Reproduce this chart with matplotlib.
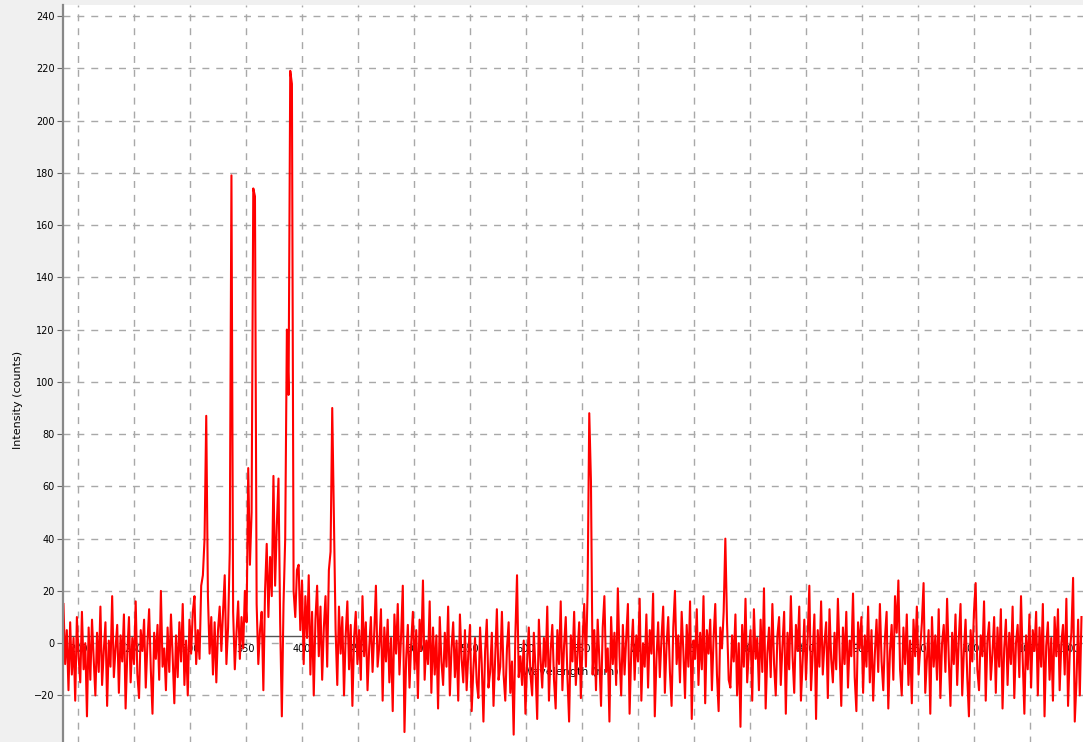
import numpy as np
import matplotlib
matplotlib.use("Agg")
import matplotlib.pyplot as plt

# ---- data ----
wl_start = 187.0   # nm, first sample
wl_step = 1.5      # nm, sampling interval

intensity = [
    15, -8, 5, -18, 8, -12, 2, -22, 10, -5, -15, 12, -10, 0, -28, 6, -14, 9, -6, -20,
    4, -11, 14, -16, -3, 8, -24, 1, -9, 18, -13, -2, 7, -19, 3, -7, 11, -25, -4, 10,
    -15, 2, -8, 16, -12, -21, 5, -3, 9, -17, 0, 13, -10, -27, 4, -6, 7, -14, 20, -9,
    -2, -18, 6, -11, 11, -5, -23, 3, -13, 8, -7, 15, -16, 1, -20, 9, -4, 12, 18, -8,
    5, -6, 22, 26, 40, 87, 18, -4, 10, -12, 8, -15, 5, 14, -3, 12, 26, -8, 6, 35,
    179, 12, -10, 4, 16, -6, 10, -2, 20, 8, 67, 30, 50, 174, 171, 15, -8, 5, 12, -18,
    20, 38, 10, 33, 18, 64, 22, 45, 63, 8, -28, 15, 40, 120, 95, 219, 214, 20, 10, 28,
    30, 5, 24, -8, 18, 2, 26, -12, 12, -20, 9, 22, -5, 14, -14, 6, 18, -9, 28, 35,
    90, 48, 5, -16, 14, -4, 10, -20, 3, 16, -10, 7, -24, 2, 12, -8, 5, -14, 18, -5,
    8, -18, -2, 10, -11, 4, 22, -9, -1, 13, -22, 6, -7, 9, -15, 2, -26, 11, -4, 15,
    -12, 3, 22, -34, -6, 7, -17, 0, 12, -10, 5, -21, 9, -3, 24, -14, 1, -8, 16, -19,
    6, -12, 3, -25, 10, -7, -16, 4, -9, 14, -20, -2, 8, -13, 1, -22, 11, -6, -15, 5,
    -18, -4, 7, -26, -10, 2, -15, -21, 6, -8, -30, -3, 9, -17, -11, 4, -24, -6, 13, -14,
    -9, 12, -12, -22, -2, 8, -19, -7, -35, 3, 26, -13, -5, -16, 1, -27, -8, 6, -12, -20,
    4, -10, -29, 9, -6, -17, 2, -9, 14, -22, -3, 7, -14, -25, 5, -8, 16, -18, -1, 10,
    -13, -30, 3, -7, 12, -16, -4, 8, -21, 1, 15, -9, 20, 88, 62, -12, 5, -18, 9, -6,
    -24, 6, 18, -11, -2, -30, 10, -8, 4, -16, 21, -5, -20, 7, -12, 2, 15, -27, -3, 9,
    -14, 3, -7, 17, -22, 0, -9, 11, -17, 5, -4, 19, -28, -6, 8, -13, 2, 14, -19, -1,
    10, -11, -24, 6, 20, -8, 3, -15, 12, -3, -21, 7, -9, 16, -29, 1, -6, 13, -16, 4,
    -10, 18, -23, 5, -4, 9, -18, 2, 15, -12, -26, 6, -2, 12, 40, 8, -14, -17, 3, -7,
    11, -20, 0, -32, 7, -9, 17, -15, -3, 5, -22, 13, -6, 2, -18, 9, -11, 21, -25, -4,
    6, -13, 15, -8, -20, 3, 10, -16, -1, 12, -27, 4, -10, 18, -5, -19, 7, -3, 14, -22,
    -7, 9, -14, 2, 22, -18, -4, 11, -29, 5, -9, 16, -12, 0, 8, -21, 13, -6, -15, 4,
    -10, 17, -3, -24, 6, -8, 12, -17, 1, -5, 19, -13, -26, 8, -2, 10, -19, 3, -9, 14,
    -15, 5, -22, -4, 9, -11, 15, -7, -18, 2, 12, -25, -3, 7, -14, 18, 4, 24, -10, -20,
    6, -8, 11, -16, 1, -23, 9, -5, 14, -12, -2, 8, 23, -19, -6, 5, -27, 10, -9, 3,
    -14, 13, -21, 0, 7, -11, 17, -6, -24, 4, -8, 11, -16, 2, 15, -20, -3, 9, -13, -28,
    5, -7, 12, 23, -10, -18, 3, -5, 16, -22, 1, 8, -14, -4, 10, -19, 6, -9, 13, -25,
    -2, 9, -16, 4, -8, 14, -21, 0, 7, -13, 18, -6, -27, 3, -10, 11, -17, 5, -3, 12,
    -20, 6, -9, 15, -28, -1, 8, -14, 2, -22, 10, -5, 13, -18, 0, 7, -12, 17, -24, -4,
    4, 25, -30, -15, 9, -20, 10,
]

x_ticks = [200, 250, 300, 350, 400, 450, 500, 550, 600, 650, 700, 750,
           800, 850, 900, 950, 1000, 1050, 1100]
y_ticks = [-40, -20, 0, 20, 40, 60, 80, 100, 120, 140, 160, 180, 200, 220, 240]

wavelength = wl_start + wl_step * np.arange(len(intensity))

# ---- figure ----
W, H = 1083, 742
fig = plt.figure(figsize=(W / 100, H / 100), dpi=100, facecolor="#f0f0f0")

left_px, right_px, top_px, bottom_px = 63, 1090, 5, 760
ax = fig.add_axes([left_px / W, (H - bottom_px) / H,
                   (right_px - left_px) / W, (bottom_px - top_px) / H])
ax.set_facecolor("white")

ax.set_xlim(186.6, 1103.6)
ax.set_ylim(-44.7, 244.2)

ax.set_axisbelow(True)
ax.set_xticks(x_ticks)
ax.set_yticks(y_ticks)
ax.grid(True, color="#a8a8a8", linestyle=(0, (5, 5)), linewidth=1.0)

for s in ["top", "right", "bottom"]:
    ax.spines[s].set_visible(False)
ax.spines["left"].set_color("#888888")
ax.spines["left"].set_linewidth(1.6)

ax.tick_params(axis="x", bottom=False, labelbottom=False)
ax.tick_params(axis="y", direction="out", length=4, width=0.8, color="#666666",
               labelsize=7, pad=2, labelcolor="black")

# zero axis line
ax.axhline(2.7, color="#555555", linewidth=1.0, zorder=1.8)

# x tick labels drawn inside the plot, just below the zero line
for v in x_ticks:
    if v == x_ticks[-1]:
        # last label is pushed left so that it stays inside the figure
        ax.annotate(str(v), xy=(1.0, 0), xycoords=("figure fraction", "data"),
                    xytext=(-2, -2.2), textcoords=("offset points", "data"),
                    ha="right", va="center", fontsize=7, color="black",
                    zorder=1.5)
    else:
        ax.text(v, -2.2, str(v), ha="center", va="center", fontsize=7,
                color="black", zorder=1.5)

ax.text(640, -11, "Wavelength (nm)", ha="center", va="center", fontsize=8,
        color="black", zorder=1.5)

ax.plot(wavelength, intensity, color="#ff0000", linewidth=1.5, zorder=2)

fig.text(18 / W, 1 - 400 / H, "Intensity (counts)", rotation=90,
         ha="center", va="center", fontsize=8, color="black")

fig.savefig("out.png", dpi=100, facecolor=fig.get_facecolor())
